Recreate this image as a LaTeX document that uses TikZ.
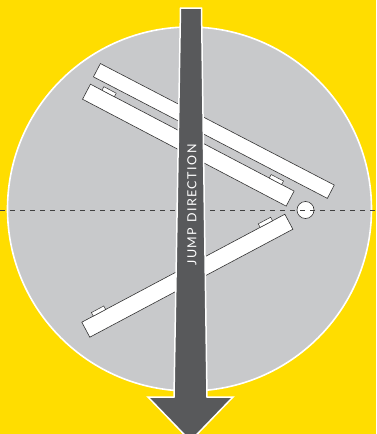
\documentclass[tikz,border=0pt]{standalone}
\usepackage{fontspec}
\newfontfamily\jumpfont[LetterSpace=12]{Lato}
\definecolor{signyellow}{HTML}{FFDD00}
\definecolor{pitgrey}{HTML}{C8C9CB}
\definecolor{arrowgrey}{HTML}{58595B}
\tikzset{
  board/.style={fill=white,draw=black!80,line width=0.6pt},
  boardtab/.style={fill=white,draw=black!80,line width=0.5pt},
  midline/.style={draw=black!75,line width=0.6pt,dash pattern=on 5pt off 5pt}
}
\begin{document}
\begin{tikzpicture}[x=1pt,y=-1pt]
\useasboundingbox (0,0) rectangle (376,434);
\clip (0,0) rectangle (376,434);
% background
\fill[signyellow] (0,0) rectangle (376,434);

% landing area
\draw[fill=pitgrey,draw=white,line width=1.6pt] (189.5,209) circle (182);

% upper board
\begin{scope}[shift={(96.9,70.2)},rotate=-27.45]
\draw[board] (0,-7.5) rectangle (263.6,7.5);
\end{scope}

% middle board with tabs
\begin{scope}[shift={(86.5,91.7)},rotate=-27.7]
\draw[board] (0,-8.5) rectangle (230,8.5);
\draw[boardtab] (13,-12.5) rectangle (27,-8.5);
\draw[boardtab] (202,-12.5) rectangle (216,-8.5);
\end{scope}

% lower board with tabs
\begin{scope}[shift={(85.8,329.7)},rotate=28]
\draw[board] (0,-8.5) rectangle (230,8.5);
\draw[boardtab] (13,-12.5) rectangle (27,-8.5);
\draw[boardtab] (202,-12.5) rectangle (216,-8.5);
\end{scope}

% pivot and centre line
\draw[board] (305.5,210) circle (8.5);
\draw[midline] (0,210) -- (376,210);

% jump direction arrow
\draw[fill=arrowgrey,draw=white,line width=1.5pt,line join=miter]
  (180.5,8) -- (201.5,8) -- (207,397) -- (233,397) -- (190.5,441)
  -- (148,397) -- (174,397) -- cycle;
\node[rotate=90,text=white,font=\jumpfont\fontsize{12.5}{14}\selectfont] (jumplabel) at (192,205) {JUMP DIRECTION};
\end{tikzpicture}
\end{document}
